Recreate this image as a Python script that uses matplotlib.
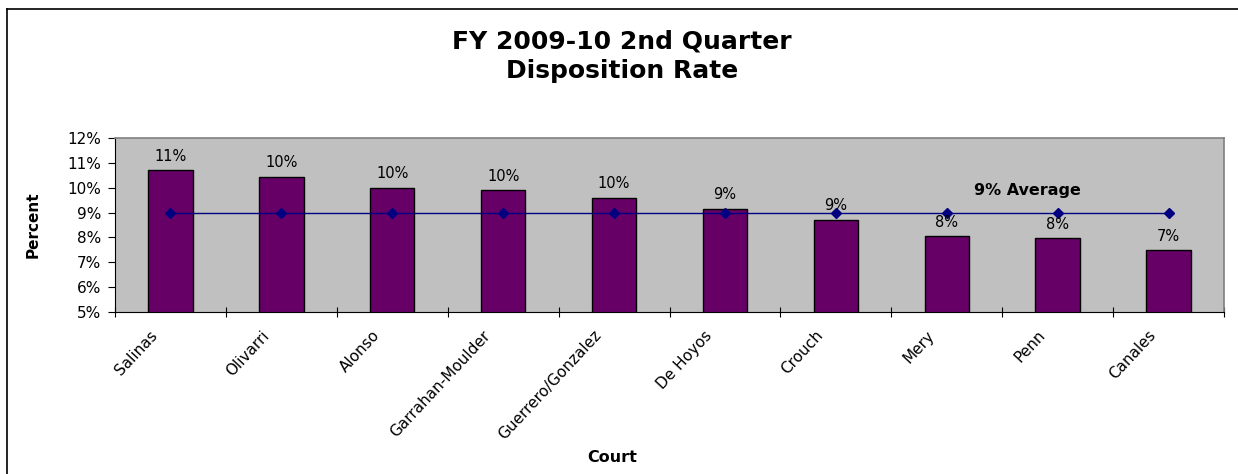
import numpy as np
import matplotlib
matplotlib.use('Agg')
import matplotlib.pyplot as plt
from matplotlib.lines import Line2D
from matplotlib.transforms import ScaledTranslation

plt.rcParams['font.family'] = ['DejaVu Sans']

courts = ['Salinas', 'Olivarri', 'Alonso', 'Garrahan-Moulder', 'Guerrero/Gonzalez',
          'De Hoyos', 'Crouch', 'Mery', 'Penn', 'Canales']
rates = [10.71, 10.45, 10.0, 9.91, 9.6, 9.16, 8.72, 8.05, 7.97, 7.48]
labels = ['11%', '10%', '10%', '10%', '10%', '9%', '9%', '8%', '8%', '7%']
average = [9] * len(courts)
y_ticks = [5, 6, 7, 8, 9, 10, 11, 12]

fig = plt.figure(figsize=(12.38, 4.74), dpi=100)
ax = fig.add_axes([115 / 1238, 1 - 312 / 474, (1224 - 115) / 1238, (312 - 138) / 474])
ax.set_facecolor('#C0C0C0')

x = np.arange(len(courts))
ax.bar(x, rates, width=0.4, color='#660066', edgecolor='black', linewidth=1, zorder=2)
ax.plot(x, average, color='#000080', lw=1, marker='D', markersize=5, zorder=3)

for xi, r, lab in zip(x, rates, labels):
    ax.annotate(lab, (xi, r), xytext=(0, 10), textcoords='offset points',
                ha='center', va='center', fontsize=10.5)

ax.text(7.73, 9.9, '9% Average', ha='center', va='center', fontsize=11.5, fontweight='bold')

ax.set_xlim(-0.5, len(courts) - 0.5)
ax.set_ylim(5, 12)
ax.set_yticks(y_ticks)
ax.set_yticklabels([f'{v}%' for v in y_ticks], fontsize=11)
ax.tick_params(axis='y', direction='out', length=5, width=0.8, pad=5)

ax.set_xticks(x)
ax.set_xticklabels(courts, fontsize=11, rotation=47, ha='right', va='center', rotation_mode='anchor')
ax.set_xticks(np.arange(-0.5, len(courts)), minor=True)
ax.tick_params(axis='x', which='major', length=0, pad=0)
ax.tick_params(axis='x', which='minor', direction='inout', length=7, width=0.8)
off = ScaledTranslation(-15 / 100, -21 / 100, fig.dpi_scale_trans)
for t in ax.get_xticklabels():
    t.set_transform(t.get_transform() + off)

for s in ['top', 'right']:
    ax.spines[s].set_color('#808080')
    ax.spines[s].set_linewidth(1.2)
for s in ['left', 'bottom']:
    ax.spines[s].set_color('black')
    ax.spines[s].set_linewidth(0.8)

fig.text(622 / 1238, 1 - 56 / 474, 'FY 2009-10 2nd Quarter\nDisposition Rate',
         ha='center', va='center', fontsize=18, fontweight='bold', linespacing=1.3)
fig.text(33 / 1238, 1 - 225 / 474, 'Percent', rotation=90, ha='center', va='center',
         fontsize=11, fontweight='bold')
fig.text(612 / 1238, 1 - 458 / 474, 'Court', ha='center', va='center',
         fontsize=11.5, fontweight='bold')

# outer frame (top and left edges visible)
fig.add_artist(Line2D([7 / 1238, 1.0], [1 - 9 / 474, 1 - 9 / 474], color='black', lw=1.2,
                      transform=fig.transFigure))
fig.add_artist(Line2D([7 / 1238, 7 / 1238], [1 - 9 / 474, 0], color='black', lw=1.2,
                      transform=fig.transFigure))

fig.savefig('out.png', dpi=100)
